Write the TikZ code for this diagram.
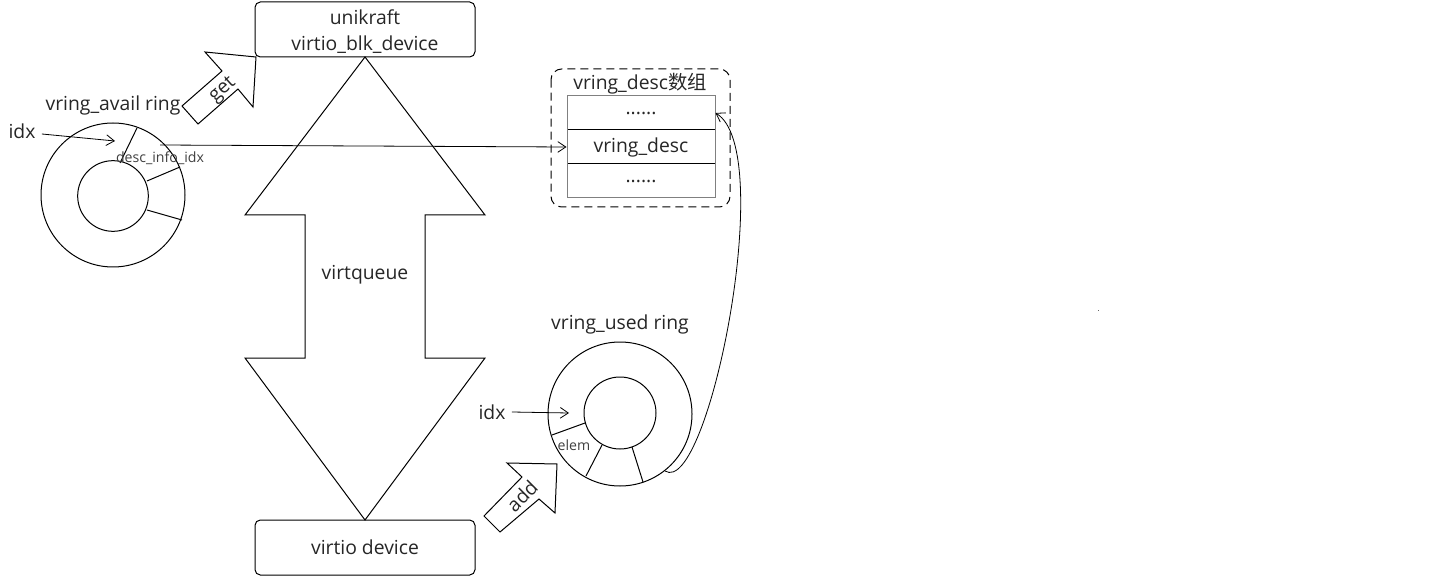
\documentclass[tikz,border=0pt]{standalone}
\usepackage{fontspec}
\setmainfont{Open Sans}
\newfontfamily\cjk{Noto Sans CJK SC}
\usetikzlibrary{arrows.meta}
\begin{document}
\begin{tikzpicture}[x=0.75pt,y=-0.75pt,
  line width=0.75pt,
  every node/.style={inner sep=0pt,font=\fontsize{14.5pt}{17pt}\selectfont,text=black!85},
  smalltext/.style={font=\fontsize{10.6pt}{12pt}\selectfont,text=black!75},
  box/.style={draw,rounded corners=4pt,minimum width=165pt,minimum height=41.25pt},
  cell/.style={draw,minimum width=111pt,minimum height=25.5pt},
  arr/.style={-{Straight Barb[length=6pt,width=8pt]}},
  thin/.style={line width=0.6pt}]
\useasboundingbox (0,0) rectangle (1445,577);
% top and bottom boxes
\node[box] (top) at (365,29.5) {};
\node (topa) at (365,17) {unikraft};
\node (topb) at (365,45) {virtio\_blk\_device};
\node[box] (bot) at (365,547.5) {virtio device};
% double arrow
\draw (365,57) -- (485,215) -- (425,215) -- (425,358) -- (485,358) -- (365,520)
  -- (245,358) -- (305,358) -- (305,215) -- (245,215) -- cycle;
\node (vq) at (365,275) {virtqueue};
% get block arrow
\draw (182,106) -- (222,71) -- (205,52) -- (256,57) -- (253,107) -- (238,89) -- (198,124) -- cycle;
\node[rotate=42] (get) at (223,90) {get};
% add block arrow
\draw (484,516) -- (522,477) -- (507,463) -- (557,464) -- (555,513) -- (539,499) -- (500,532) -- cycle;
\node[rotate=45] (add) at (522,496) {add};
% avail ring
\node (availlbl) at (113,105) {vring\_avail ring};
\node[draw,circle,minimum size=108pt] (aout) at (113,195) {};
\node[draw,circle,minimum size=53pt] (ain) at (113,196) {};
\draw (137,128) -- (120,163);
\draw (147,181) -- (180,167);
\draw (147,210) -- (182,220);
\node[smalltext] (dii) at (160,158) {desc\_info\_idx};
\node (aidx) at (22,131) {idx};
\coordinate (aidxend) at (115,141);
\draw[arr,thin] (aidx.east) ++(6,3) -- (aidxend);
% desc group
\draw[dash pattern=on 6pt off 3.75pt,rounded corners=8pt] (551,69) rectangle (730,207);
\node (desclbl) at (640,84) {vring\_desc{\cjk 数组}};
\node[cell] (c1) at (641,113) {......};
\node[cell] (c2) at (641,147) {vring\_desc};
\node[cell] (c3) at (641,181) {......};
\draw[black!50] (567,96) rectangle (715,198);
\coordinate (dstart) at (160,145);
\draw[arr,thin] (dstart) -- (c2.west);
% used ring
\node (usedlbl) at (620,324) {vring\_used ring};
\node[draw,circle,minimum size=108pt] (uout) at (620,414) {};
\node[draw,circle,minimum size=54pt] (uin) at (620,413) {};
\draw (552,435) -- (585,423);
\draw (586,476) -- (602,445);
\draw (643,482) -- (632,447);
\node[smalltext] (elem) at (574,445) {elem};
\node (uidx) at (492,412) {idx};
\coordinate (uidxend) at (569,413);
\draw[arr,thin] (uidx.east) ++(6,0) -- (uidxend);
% curve
\coordinate (cstart) at (665,471);
\draw[arr,thin] (cstart) .. controls (708,498) and (778,150) .. (c1.east);
% tiny dot
\fill[black!60] (1097.5,309.5) rectangle (1099,311);
\end{tikzpicture}
\end{document}
